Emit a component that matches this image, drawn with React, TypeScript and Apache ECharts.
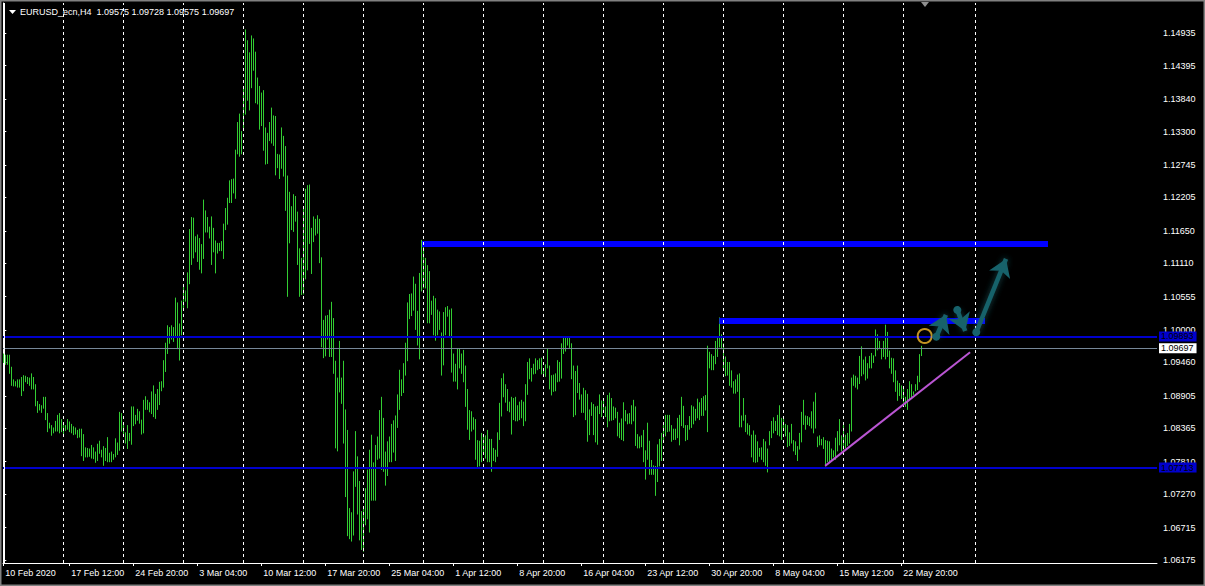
import React, { useEffect, useRef } from "react";
import * as echarts from "echarts";

// ---- H4 bar data (high / low), index 0 = 10 Feb 2020 00:00 ----
const highs = [
  1.0960,1.0958,1.0958,1.0958,1.0938,1.0917,1.0914,1.0917,1.0917,1.0921,
  1.0924,1.0923,1.0921,1.0920,1.0927,1.0921,1.0909,1.0881,1.0876,1.0874,
  1.0888,1.0888,1.0861,1.0845,1.0841,1.0837,1.0848,1.0858,1.0861,1.0851,
  1.0843,1.0841,1.0851,1.0847,1.0843,1.0839,1.0837,1.0833,1.0835,1.0835,
  1.0826,1.0804,1.0803,1.0802,1.0808,1.0804,1.0797,1.0810,1.0815,1.0800,
  1.0806,1.0803,1.0821,1.0795,1.0797,1.0793,1.0819,1.0812,1.0863,1.0861,
  1.0844,1.0829,1.0841,1.0828,1.0872,1.0872,1.0858,1.0868,1.0864,1.0850,
  1.0883,1.0889,1.0883,1.0879,1.0897,1.0907,1.0893,1.0901,1.0913,1.0914,
  1.0949,1.0978,1.1007,1.1004,1.1007,1.1004,1.1053,1.1045,1.1010,1.1048,
  1.1074,1.1065,1.1095,1.1167,1.1187,1.1186,1.1155,1.1158,1.1152,1.1142,
  1.1216,1.1198,1.1187,1.1171,1.1188,1.1169,1.1148,1.1144,1.1144,1.1147,
  1.1176,1.1202,1.1219,1.1248,1.1250,1.1251,1.1299,1.1345,1.1359,1.1330,
  1.1405,1.1499,1.1481,1.1461,1.1489,1.1484,1.1462,1.1419,1.1405,1.1394,
  1.1398,1.1336,1.1327,1.1345,1.1369,1.1356,1.1355,1.1292,1.1291,1.1336,
  1.1322,1.1305,1.1256,1.1229,1.1205,1.1225,1.1222,1.1196,1.1135,1.1119,
  1.1203,1.1234,1.1240,1.1241,1.1169,1.1188,1.1184,1.1190,1.1184,1.1120,
  1.1016,1.1023,1.1024,1.1033,1.1046,1.1019,1.0948,1.0920,1.0981,1.0920,
  1.0948,1.0867,1.0833,1.0703,1.0696,1.0764,1.0831,1.0789,1.0748,1.0698,
  1.0704,1.0736,1.0767,1.0800,1.0825,1.0779,1.0808,1.0822,1.0866,1.0888,
  1.0853,1.0797,1.0814,1.0822,1.0843,1.0849,1.0857,1.0892,1.0933,1.0917,
  1.0944,1.0978,1.1045,1.1059,1.1060,1.1088,1.1076,1.1031,1.1094,1.1149,
  1.1145,1.1119,1.1107,1.1097,1.1048,1.1056,1.1052,1.1033,1.1030,1.0995,
  1.1029,1.1037,1.1039,1.1033,1.1035,1.0960,1.0943,1.0969,1.0969,1.0960,
  1.0966,1.0940,1.0901,1.0866,1.0864,1.0854,1.0851,1.0816,1.0815,1.0828,
  1.0824,1.0824,1.0833,1.0818,1.0818,1.0803,1.0800,1.0829,1.0878,1.0919,
  1.0927,1.0909,1.0901,1.0880,1.0888,1.0886,1.0888,1.0874,1.0880,1.0883,
  1.0880,1.0909,1.0946,1.0952,1.0936,1.0943,1.0952,1.0949,1.0952,1.0953,
  1.0936,1.0942,1.0969,1.0940,1.0924,1.0925,1.0927,1.0949,1.0946,1.0977,
  1.0987,1.0988,1.0988,1.0988,1.0977,1.0940,1.0931,1.0940,1.0911,1.0892,
  1.0903,1.0899,1.0893,1.0867,1.0879,1.0876,1.0872,1.0873,1.0892,1.0882,
  1.0883,1.0872,1.0891,1.0895,1.0886,1.0872,1.0870,1.0863,1.0845,1.0852,
  1.0879,1.0866,1.0860,1.0861,1.0874,1.0883,1.0872,1.0826,1.0822,1.0824,
  1.0833,1.0799,1.0845,1.0815,1.0783,1.0774,1.0773,1.0809,1.0818,1.0828,
  1.0841,1.0858,1.0858,1.0858,1.0841,1.0835,1.0835,1.0853,1.0858,1.0888,
  1.0873,1.0841,1.0841,1.0856,1.0874,1.0872,1.0868,1.0885,1.0879,1.0886,
  1.0889,1.0891,1.0973,1.0963,1.0959,1.0956,1.0981,1.0988,1.1020,1.0992,
  1.0977,1.0955,1.0946,1.0946,1.0932,1.0914,1.0917,1.0925,1.0927,1.0857,
  1.0886,1.0858,1.0844,1.0841,1.0825,1.0832,1.0825,1.0814,1.0803,1.0804,
  1.0818,1.0814,1.0802,1.0831,1.0848,1.0854,1.0848,1.0858,1.0874,1.0853,
  1.0851,1.0843,1.0841,1.0829,1.0843,1.0816,1.0814,1.0806,1.0828,1.0863,
  1.0883,1.0857,1.0856,1.0854,1.0864,1.0880,1.0895,1.0822,1.0824,1.0818,
  1.0821,1.0816,1.0815,1.0814,1.0802,1.0799,1.0820,1.0831,1.0851,1.0824,
  1.0841,1.0825,1.0828,1.0843,1.0920,1.0925,1.0923,1.0920,1.0956,1.0972,
  1.0950,1.0955,1.0944,1.0956,1.0961,1.0957,1.1000,1.0992,1.0981,1.0969,
  1.0981,1.1008,1.0996,1.0965,1.0953,1.0952,1.0932,1.0915,1.0911,1.0907,
  1.0905,1.0888,1.0901,1.0914,1.0909,1.0897,1.0909,1.0923,1.0959,1.09728,
];
const lows = [
  1.0946,1.0943,1.0943,1.0928,1.0908,1.0907,1.0907,1.0905,1.0905,1.0891,
  1.0899,1.0914,1.0911,1.0908,1.0902,1.0902,1.0874,1.0863,1.0867,1.0863,
  1.0870,1.0851,1.0831,1.0837,1.0825,1.0829,1.0832,1.0832,1.0829,1.0831,
  1.0827,1.0833,1.0835,1.0831,1.0829,1.0826,1.0827,1.0821,1.0822,1.0791,
  1.0783,1.0789,1.0789,1.0790,1.0787,1.0786,1.0780,1.0783,1.0795,1.0789,
  1.0775,1.0783,1.0781,1.0781,1.0781,1.0785,1.0789,1.0793,1.0800,1.0832,
  1.0824,1.0812,1.0803,1.0816,1.0810,1.0841,1.0844,1.0850,1.0845,1.0827,
  1.0829,1.0868,1.0868,1.0864,1.0861,1.0856,1.0853,1.0868,1.0876,1.0899,
  1.0905,1.0931,1.0961,1.0978,1.0985,1.0981,1.0989,1.0969,1.0950,1.0992,
  1.1036,1.1048,1.1037,1.1077,1.1109,1.1120,1.1130,1.1114,1.1101,1.1095,
  1.1119,1.1163,1.1163,1.1153,1.1109,1.1130,1.1095,1.1128,1.1132,1.1132,
  1.1119,1.1167,1.1176,1.1212,1.1212,1.1228,1.1219,1.1293,1.1289,1.1293,
  1.1336,1.1359,1.1382,1.1366,1.1403,1.1432,1.1378,1.1376,1.1334,1.1340,
  1.1299,1.1276,1.1277,1.1315,1.1311,1.1307,1.1258,1.1270,1.1252,1.1269,
  1.1256,1.1199,1.1056,1.1145,1.1167,1.1164,1.1181,1.1109,1.1056,1.1059,
  1.1060,1.1085,1.1100,1.1144,1.1094,1.1147,1.1158,1.1161,1.1112,1.0972,
  1.0954,1.0957,1.0985,1.0956,1.0956,1.0928,1.0804,1.0799,1.0897,1.0878,
  1.0812,1.0723,1.0658,1.0653,1.0649,1.0659,1.0740,1.0694,1.0651,1.0635,
  1.0632,1.0676,1.0686,1.0664,1.0717,1.0717,1.0717,1.0785,1.0787,1.0768,
  1.0765,1.0742,1.0758,1.0781,1.0781,1.0797,1.0783,1.0838,1.0868,1.0891,
  1.0896,1.0925,1.0949,1.1019,1.1024,1.1033,1.1001,1.0975,1.0952,1.1065,
  1.1070,1.1070,1.1012,1.1012,1.1026,1.0992,1.0983,1.0992,1.1001,1.0925,
  1.0942,1.0992,1.1023,1.0988,1.0930,1.0915,1.0915,1.0902,1.0937,1.0928,
  1.0914,1.0873,1.0835,1.0818,1.0832,1.0835,1.0785,1.0773,1.0774,1.0781,
  1.0795,1.0787,1.0781,1.0781,1.0765,1.0783,1.0781,1.0790,1.0818,1.0857,
  1.0889,1.0880,1.0866,1.0864,1.0827,1.0851,1.0849,1.0849,1.0851,1.0854,
  1.0841,1.0849,1.0893,1.0919,1.0915,1.0927,1.0928,1.0934,1.0936,1.0927,
  1.0924,1.0923,1.0937,1.0902,1.0892,1.0898,1.0899,1.0914,1.0915,1.0920,
  1.0961,1.0965,1.0975,1.0971,1.0919,1.0856,1.0859,1.0896,1.0885,1.0863,
  1.0863,1.0851,1.0815,1.0826,1.0858,1.0826,1.0814,1.0810,1.0861,1.0856,
  1.0863,1.0856,1.0839,1.0849,1.0850,1.0851,1.0854,1.0824,1.0821,1.0818,
  1.0816,1.0849,1.0844,1.0845,1.0844,1.0849,1.0808,1.0804,1.0804,1.0806,
  1.0781,1.0752,1.0785,1.0760,1.0760,1.0760,1.0725,1.0748,1.0774,1.0783,
  1.0815,1.0824,1.0831,1.0832,1.0815,1.0818,1.0818,1.0821,1.0809,1.0841,
  1.0838,1.0816,1.0818,1.0835,1.0838,1.0844,1.0850,1.0854,1.0851,1.0858,
  1.0858,1.0867,1.0831,1.0937,1.0934,1.0934,1.0944,1.0956,1.0972,1.0969,
  1.0937,1.0924,1.0925,1.0908,1.0905,1.0895,1.0895,1.0898,1.0839,1.0839,
  1.0850,1.0831,1.0827,1.0825,1.0789,1.0781,1.0780,1.0781,1.0790,1.0785,
  1.0781,1.0775,1.0764,1.0809,1.0821,1.0829,1.0833,1.0826,1.0824,1.0818,
  1.0833,1.0824,1.0806,1.0808,1.0812,1.0799,1.0793,1.0783,1.0802,1.0814,
  1.0843,1.0835,1.0843,1.0841,1.0837,1.0829,1.0837,1.0806,1.0809,1.0809,
  1.0803,1.0774,1.0781,1.0781,1.0785,1.0789,1.0785,1.0799,1.0809,1.0799,
  1.0802,1.0804,1.0808,1.0812,1.0832,1.0908,1.0905,1.0902,1.0911,1.0924,
  1.0927,1.0917,1.0920,1.0937,1.0937,1.0946,1.0957,1.0967,1.0969,1.0952,
  1.0956,1.0952,1.0956,1.0937,1.0928,1.0914,1.0898,1.0883,1.0891,1.0886,
  1.0880,1.0873,1.0868,1.0886,1.0889,1.0893,1.0899,1.0901,1.0914,1.09575,
];

// ---- axis ticks / labels ----
const xLabelIndex = [0, 33, 65, 97, 129, 161, 193, 225, 257, 289, 321, 353, 385, 417, 449];
const xLabels = [
  "10 Feb 2020", "17 Feb 12:00", "24 Feb 20:00", "3 Mar 04:00", "10 Mar 12:00",
  "17 Mar 20:00", "25 Mar 04:00", "1 Apr 12:00", "8 Apr 20:00", "16 Apr 04:00",
  "23 Apr 12:00", "30 Apr 20:00", "8 May 04:00", "15 May 12:00", "22 May 20:00",
];
const yTicks = [
  1.14935, 1.14395, 1.1384, 1.133, 1.12745, 1.12205, 1.1165, 1.1111, 1.10555,
  1.1, 1.0946, 1.08905, 1.08365, 1.0781, 1.0727, 1.06715, 1.06175,
];
const periodSeparators = [30, 60, 90, 120, 150, 180, 210, 240, 270, 300, 330, 360, 390, 420, 450, 486];

// ---- chart objects ----
const hLineLevels = [1.09893, 1.07713];
const bidLevel = 1.09697;
const resistanceHigh = [[209.35, 1.1143], [522.35, 1.1143]];
const resistanceLow = [[358, 1.1015], [490.85, 1.1015]];
const trendLine = [[410.9, 1.0774], [483.4, 1.0963]];
const circlePoint = [[460.7, 1.0990]];
const arrowPaths = [
  [[466.5, 1.09888], [471.3, 1.10253]],
  [[477.0, 1.10333], [480.95, 1.09982]],
  [[486.5, 1.09962], [501.35, 1.11182]],
];
const titleText = "EURUSD_ecn,H4  1.09575 1.09728 1.09575 1.09697";

const FONT = "'Liberation Sans', Arial, sans-serif";

export default function App() {
  const ref = useRef<HTMLDivElement>(null);
  useEffect(() => {
    if (!ref.current) return;
    const chart = echarts.init(ref.current, null, { renderer: "svg" });
    const barData = highs.map((h, i) => [i, lows[i], h]);
    const levelLabel = (v: number, bg: string) => ({
      show: true,
      position: "end",
      distance: 2,
      formatter: v.toFixed(5),
      color: "#000000",
      backgroundColor: bg,
      padding: [1, 3, 0, 2],
      fontSize: 9,
      fontFamily: FONT,
    });
    const option: any = {
      animation: false,
      backgroundColor: "#000000",
      title: {
        text: titleText,
        left: 20,
        top: 7,
        padding: 0,
        textStyle: { color: "#ffffff", fontSize: 9, fontWeight: "normal", fontFamily: FONT },
      },
      grid: { left: 3, right: 48, top: 3, bottom: 23 },
      xAxis: {
        type: "value",
        min: -0.15,
        max: 576.85,
        axisLine: { show: true, lineStyle: { color: "#ffffff", width: 1 } },
        axisTick: { show: true, customValues: xLabelIndex, length: 3, inside: false, lineStyle: { color: "#ffffff" } },
        axisLabel: {
          customValues: xLabelIndex,
          formatter: (v: number) => {
            const i = xLabelIndex.findIndex((k) => Math.abs(k - v) < 0.01);
            return i >= 0 ? xLabels[i] : "";
          },
          align: "left",
          color: "#ffffff",
          fontSize: 9,
          fontFamily: FONT,
          margin: 5,
          padding: [0, 0, 0, 2],
        },
        splitLine: { show: false },
      },
      yAxis: {
        type: "value",
        position: "right",
        min: 1.06125,
        max: 1.15438,
        axisLine: { show: true, lineStyle: { color: "#ffffff", width: 1 } },
        axisTick: { show: true, customValues: yTicks, length: 3, lineStyle: { color: "#ffffff" } },
        axisLabel: {
          customValues: yTicks,
          formatter: (v: number) => v.toFixed(5),
          color: "#ffffff",
          fontSize: 9,
          fontFamily: FONT,
          margin: 6,
        },
        splitLine: { show: false },
      },
      series: [
        {
          type: "line",
          data: [],
          z: 1,
          silent: true,
          markLine: {
            silent: true,
            symbol: "none",
            precision: 5,
            label: { show: false },
            lineStyle: { color: "#ffffff", width: 1, type: [3, 3] },
            data: periodSeparators.map((k) => ({ xAxis: k })),
          },
        },
        {
          type: "custom",
          z: 2,
          clip: true,
          data: barData,
          encode: { x: 0, y: [1, 2] },
          renderItem: (params: any, api: any) => {
            const k = api.value(0);
            const lo = api.coord([k, api.value(1)]);
            const hi = api.coord([k, api.value(2)]);
            const px = Math.round(lo[0] - 0.5) + 0.5;
            return {
              type: "line",
              shape: { x1: px, y1: lo[1] + 0.5, x2: px, y2: hi[1] - 0.5 },
              style: { stroke: "#32CD32", lineWidth: 1 },
            };
          },
        },
        {
          type: "line",
          data: resistanceHigh,
          z: 3,
          showSymbol: false,
          silent: true,
          lineStyle: { color: "#0000FF", width: 6, cap: "butt" },
        },
        {
          type: "line",
          data: resistanceLow,
          z: 3,
          showSymbol: false,
          silent: true,
          lineStyle: { color: "#0000FF", width: 6, cap: "butt" },
        },
        {
          type: "line",
          data: [],
          z: 4,
          silent: true,
          markLine: {
            silent: true,
            symbol: "none",
            precision: 5,
            data: [
              ...hLineLevels.map((v) => ({
                yAxis: v,
                lineStyle: { color: "#0000CD", width: 2, type: "solid" },
                label: levelLabel(v, "#0000CD"),
              })),
              {
                yAxis: bidLevel,
                lineStyle: { color: "#778899", width: 1, type: "solid" },
                label: levelLabel(bidLevel, "#ffffff"),
              },
            ],
          },
        },
        {
          type: "line",
          data: trendLine,
          z: 5,
          showSymbol: false,
          silent: true,
          lineStyle: { color: "#BA55D3", width: 2 },
        },
        {
          type: "scatter",
          data: circlePoint,
          z: 6,
          silent: true,
          symbol: "circle",
          symbolSize: 14,
          itemStyle: { color: "rgba(0,0,0,0)", borderColor: "#F5B82A", borderWidth: 2 },
        },
        {
          type: "lines",
          coordinateSystem: "cartesian2d",
          z: 7,
          silent: true,
          symbol: ["circle", "arrow"],
          symbolSize: [8, 17],
          lineStyle: {
            color: "#17626B",
            width: 4.5,
            opacity: 1,
            shadowBlur: 6,
            shadowColor: "rgba(40,140,150,0.5)",
          },
          data: arrowPaths.map((c) => ({ coords: c })),
        },
      ],
      graphic: [
        { type: "rect", shape: { x: 0, y: 0, width: 1205, height: 586 }, style: { fill: "none", stroke: "#808080", lineWidth: 3 }, silent: true, z: 100 },
        { type: "line", shape: { x1: 4.5, y1: 3, x2: 4.5, y2: 563 }, style: { stroke: "#ffffff", lineWidth: 1 }, silent: true, z: 100 },
        { type: "polygon", shape: { points: [[9, 10], [16, 10], [12.5, 14]] }, style: { fill: "#ffffff" }, silent: true, z: 100 },
        { type: "polygon", shape: { points: [[921, 2], [929, 2], [925, 7]] }, style: { fill: "#909090" }, silent: true, z: 100 },
      ],
    };
    chart.setOption(option);
    return () => chart.dispose();
  }, []);
  return (
    <div
      ref={ref}
      style={{ position: "absolute", left: 0, top: 0, width: 1205, height: 586 }}
    />
  );
}
